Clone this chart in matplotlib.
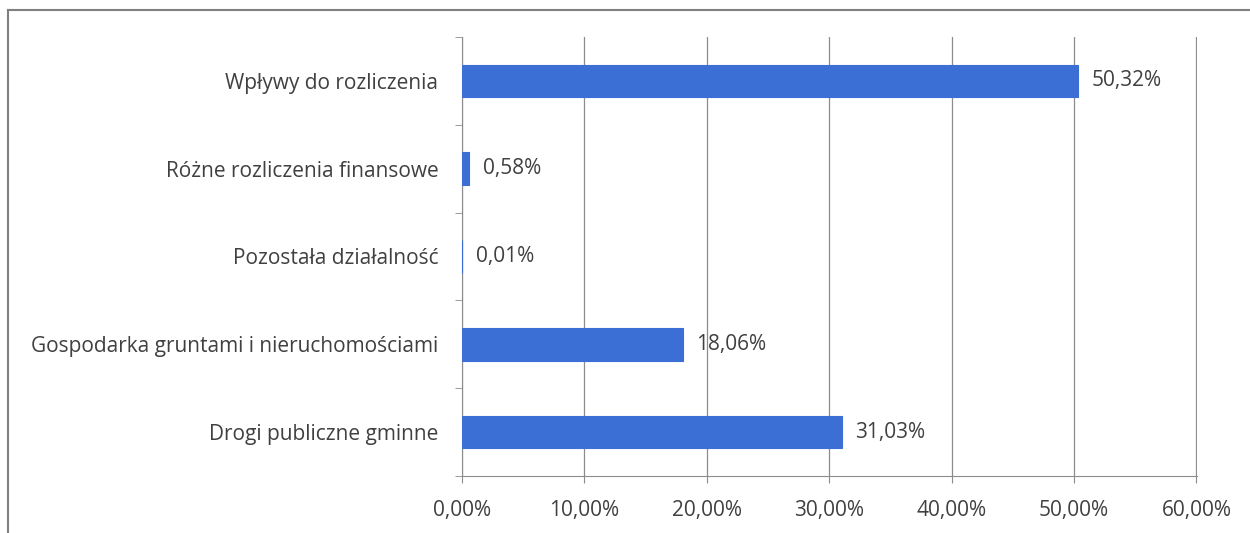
import matplotlib.pyplot as plt
from matplotlib.lines import Line2D
from matplotlib.ticker import FixedLocator, FuncFormatter

# Data (top to bottom as shown)
categories = [
    "Wpływy do rozliczenia",
    "Różne rozliczenia finansowe",
    "Pozostała działalność",
    "Gospodarka gruntami i nieruchomościami",
    "Drogi publiczne gminne",
]
shares = [50.32, 0.58, 0.01, 18.06, 31.03]
x_ticks = [0, 10, 20, 30, 40, 50, 60]

plt.rcParams["font.family"] = ["Open Sans", "DejaVu Sans"]
text_color = "#404040"
bar_color = "#3b6fd5"
fs = 15

fig = plt.figure(figsize=(12.5, 5.33), dpi=100)
ax = fig.add_axes([0.3696, 0.107, 0.588, 0.8236])

# reverse so first category is at the top
ypos = list(range(len(categories)))[::-1]
ax.barh(ypos, shares, height=0.37, color=bar_color, edgecolor=bar_color,
        linewidth=0.8, zorder=3)

for y, v in zip(ypos, shares):
    ax.text(v + 1.1, y, f"{v:.2f}%".replace(".", ","), va="center", ha="left",
            fontsize=fs, color=text_color, zorder=4)

ax.set_xlim(0, 60.05)
ax.set_ylim(-0.5, len(categories) - 0.5)
ax.xaxis.set_major_locator(FixedLocator(x_ticks))
ax.xaxis.set_major_formatter(FuncFormatter(lambda x, p: f"{x:.2f}%".replace(".", ",")))
ax.grid(axis="x", color="#8c8c8c", linewidth=0.9, zorder=0)

ax.set_yticks(ypos)
ax.set_yticklabels(categories)
ax.yaxis.set_minor_locator(FixedLocator([i - 0.5 for i in range(len(categories) + 1)]))
ax.tick_params(axis="y", which="major", length=0, pad=17, labelsize=fs, labelcolor=text_color)
ax.tick_params(axis="y", which="minor", length=5, color="#8c8c8c")
ax.tick_params(axis="x", length=5, color="#8c8c8c", pad=12, labelsize=fs, labelcolor=text_color)

for side in ["top", "right"]:
    ax.spines[side].set_visible(False)
for side in ["left", "bottom"]:
    ax.spines[side].set_color("#8c8c8c")

# outer frame (top and left edges visible)
x0, y0 = 8 / 1250, 1 - 10 / 533
fig.add_artist(Line2D([x0, 1], [y0, y0], transform=fig.transFigure,
                      color="#808080", linewidth=1.5))
fig.add_artist(Line2D([x0, x0], [0, y0], transform=fig.transFigure,
                      color="#808080", linewidth=1.5))

fig.savefig("out.png", dpi=100)
